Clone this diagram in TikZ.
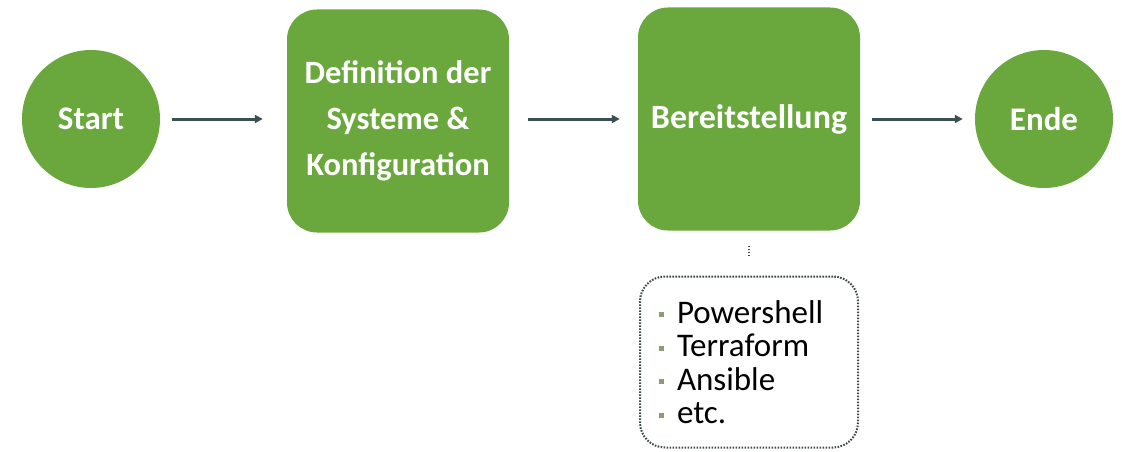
\documentclass[tikz,border=0pt]{standalone}
\usepackage{fontspec}
\setmainfont{Carlito}
\usetikzlibrary{arrows.meta}
\definecolor{flowgreen}{RGB}{106,168,62}
\definecolor{arrowc}{RGB}{58,80,80}
\definecolor{bulc}{RGB}{140,155,120}
\definecolor{dotc}{RGB}{60,70,70}
\tikzset{
  stepcircle/.style={circle, fill=flowgreen, minimum size=138pt, inner sep=0pt,
    text=white, font=\bfseries\fontsize{33}{38}\selectfont},
  stepbox/.style={rectangle, rounded corners=30pt, fill=flowgreen, minimum width=222pt,
    minimum height=223pt, inner sep=0pt, text=white, align=center,
    font=\bfseries\fontsize{34}{46}\selectfont},
  flowarrow/.style={draw=arrowc, line width=3pt, -{Triangle[length=8pt,width=8pt]}},
  listbox/.style={rectangle, rounded corners=25pt, draw=dotc, line width=2pt,
    dash pattern=on 1.6pt off 1.4pt, minimum width=218pt, minimum height=171pt,
    text width=180pt, inner xsep=19pt, align=left,
    font=\fontsize{33}{33.5}\selectfont},
  dotline/.style={draw=dotc, line width=2pt, dash pattern=on 1.6pt off 1.4pt}
}
\newcommand{\listbul}{\raisebox{6pt}{\textcolor{bulc}{\rule{5pt}{5pt}}}\hspace{13pt}}
\begin{document}
\begin{tikzpicture}[x=1pt,y=-1pt]
\useasboundingbox (0,0) rectangle (1122,452);
\node[stepcircle] (start) at (91,119) {Start};
\node[stepbox, font=\bfseries\fontsize{32.5}{46}\selectfont] (def) at (398,121) {Definition der\\Systeme \&\\Konfiguration};
\node[stepbox] (bereit) at (749,119) {Bereitstellung};
\node[stepcircle] (ende) at (1044,119) {Ende};
\node[listbox] (tools) at (749,362) {\listbul Powershell\\\listbul Terraform\\\listbul Ansible\\\listbul etc.};
\draw[flowarrow, shorten <=12pt, shorten >=24pt] (start.east) -- (start.east -| def.west);
\draw[flowarrow, shorten <=19pt, shorten >=18pt] (def.east |- bereit.west) -- (bereit.west);
\draw[flowarrow, shorten <=12pt, shorten >=12pt] (bereit.east) -- (ende.west);
\draw[dotline, shorten <=15pt, shorten >=19pt] (bereit.south) -- (tools.north);
\end{tikzpicture}
\end{document}
